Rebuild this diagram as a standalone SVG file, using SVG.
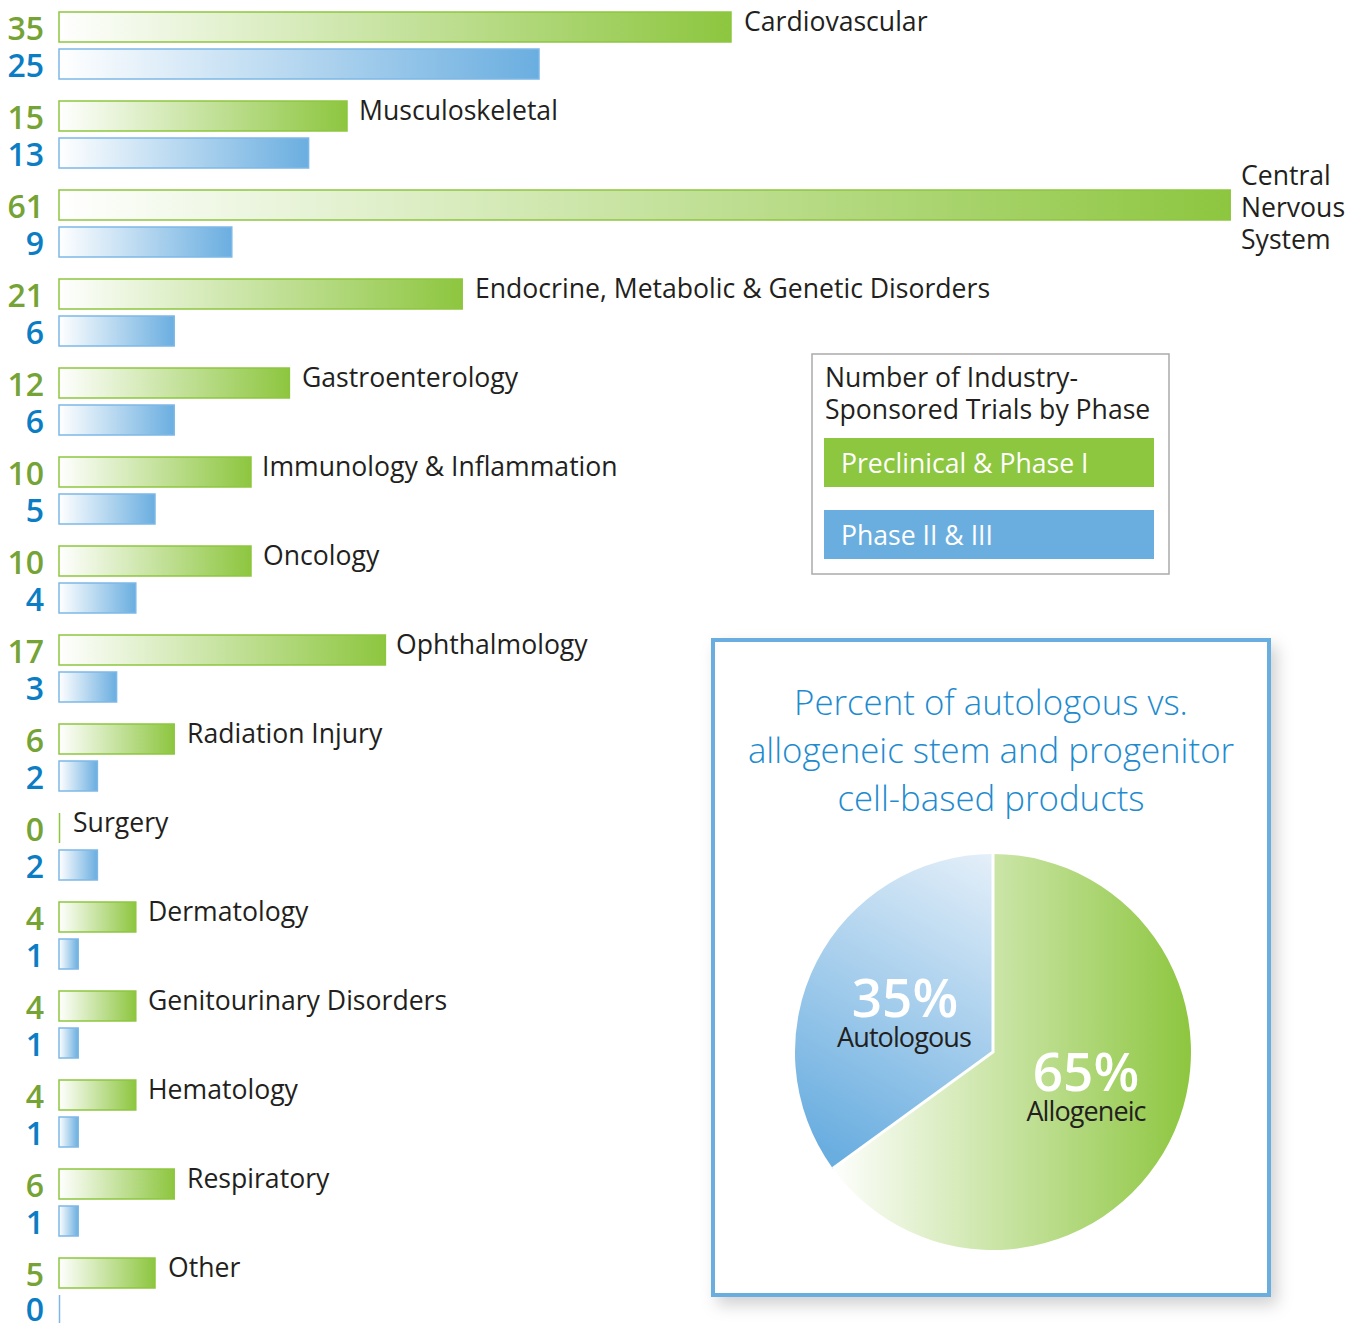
<svg xmlns="http://www.w3.org/2000/svg" width="1359" height="1323" viewBox="0 0 1359 1323">
<defs>
<linearGradient id="gG" x1="0" y1="0" x2="1" y2="0"><stop offset="0" stop-color="#ffffff"/><stop offset="1" stop-color="#8dc63f"/></linearGradient>
<linearGradient id="gB" x1="0" y1="0" x2="1" y2="0"><stop offset="0" stop-color="#ffffff"/><stop offset="1" stop-color="#6aaee0"/></linearGradient>
<linearGradient id="pieG" gradientUnits="userSpaceOnUse" x1="830" y1="0" x2="1191" y2="0"><stop offset="0" stop-color="#ffffff"/><stop offset="1" stop-color="#8dc63f"/></linearGradient>
<linearGradient id="pieB" gradientUnits="userSpaceOnUse" x1="993" y1="855" x2="830" y2="1150"><stop offset="0" stop-color="#e4eff9"/><stop offset="1" stop-color="#6aaee0"/></linearGradient>
<filter id="sh" x="-10%" y="-10%" width="125%" height="125%"><feDropShadow dx="6" dy="8" stdDeviation="8" flood-color="#000" flood-opacity="0.18"/></filter>
</defs>
<style>
text{font-family:"Open Sans","Noto Sans","Liberation Sans",sans-serif}
.g{fill:url(#gG);stroke:#8dc63f;stroke-width:1.5}
.b{fill:url(#gB);stroke:#7db8e6;stroke-width:1.5}
.ng{fill:#76a335;font-size:32px;font-weight:600;text-anchor:end}
.nb{fill:#0a7dc4;font-size:32px;font-weight:600;text-anchor:end}
.lb{fill:#231f20;font-size:26.6px}
.lt{fill:#231f20;font-size:26.6px}
.lw{fill:#ffffff;font-size:26.6px}
.pt{fill:#1e8bcf;font-size:34.8px;font-weight:300;text-anchor:middle}
.pp{fill:#ffffff;font-size:53px;font-weight:600;text-anchor:middle}
.pl{fill:#231f20;font-size:27px;letter-spacing:-0.9px;text-anchor:middle}
</style>
<rect width="1359" height="1323" fill="#ffffff"/>

<g id="cat-cardiovascular">
<rect class="g" x="59" y="12" width="672" height="30"/><rect class="b" x="59" y="49" width="480" height="30"/>
<text class="ng" x="44" y="40">35</text><text class="nb" x="44" y="76.5">25</text>
<text class="lb" x="744" y="30.5">Cardiovascular</text>
</g>
<g id="cat-musculoskeletal">
<rect class="g" x="59" y="101" width="288" height="30"/><rect class="b" x="59" y="138" width="249.6" height="30"/>
<text class="ng" x="44" y="129">15</text><text class="nb" x="44" y="165.5">13</text>
<text class="lb" x="359" y="119.5">Musculoskeletal</text>
</g>
<g id="cat-cns">
<rect class="g" x="59" y="190" width="1171.2" height="30"/><rect class="b" x="59" y="227" width="172.8" height="30"/>
<text class="ng" x="44" y="218">61</text><text class="nb" x="44" y="254.5">9</text>
<text class="lb" x="1241" y="185">Central</text><text class="lb" x="1241" y="217">Nervous</text><text class="lb" x="1241" y="249">System</text>
</g>
<g id="cat-endocrine">
<rect class="g" x="59" y="279" width="403.2" height="30"/><rect class="b" x="59" y="316" width="115.2" height="30"/>
<text class="ng" x="44" y="307">21</text><text class="nb" x="44" y="343.5">6</text>
<text class="lb" x="475" y="297.5">Endocrine, Metabolic &amp; Genetic Disorders</text>
</g>
<g id="cat-gastroenterology">
<rect class="g" x="59" y="368" width="230.4" height="30"/><rect class="b" x="59" y="405" width="115.2" height="30"/>
<text class="ng" x="44" y="396">12</text><text class="nb" x="44" y="432.5">6</text>
<text class="lb" x="302" y="386.5">Gastroenterology</text>
</g>
<g id="cat-immunology">
<rect class="g" x="59" y="457" width="192" height="30"/><rect class="b" x="59" y="494" width="96" height="30"/>
<text class="ng" x="44" y="485">10</text><text class="nb" x="44" y="521.5">5</text>
<text class="lb" x="262" y="475.5">Immunology &amp; Inflammation</text>
</g>
<g id="cat-oncology">
<rect class="g" x="59" y="546" width="192" height="30"/><rect class="b" x="59" y="583" width="76.8" height="30"/>
<text class="ng" x="44" y="574">10</text><text class="nb" x="44" y="610.5">4</text>
<text class="lb" x="263" y="564.5">Oncology</text>
</g>
<g id="cat-ophthalmology">
<rect class="g" x="59" y="635" width="326.4" height="30"/><rect class="b" x="59" y="672" width="57.6" height="30"/>
<text class="ng" x="44" y="663">17</text><text class="nb" x="44" y="699.5">3</text>
<text class="lb" x="396" y="653.5">Ophthalmology</text>
</g>
<g id="cat-radiation">
<rect class="g" x="59" y="724" width="115.2" height="30"/><rect class="b" x="59" y="761" width="38.4" height="30"/>
<text class="ng" x="44" y="752">6</text><text class="nb" x="44" y="788.5">2</text>
<text class="lb" x="187" y="742.5">Radiation Injury</text>
</g>
<g id="cat-surgery">
<line x1="59.5" y1="813" x2="59.5" y2="843" stroke="#8dc63f" stroke-width="1.5"/><rect class="b" x="59" y="850" width="38.4" height="30"/>
<text class="ng" x="44" y="841">0</text><text class="nb" x="44" y="877.5">2</text>
<text class="lb" x="73" y="832">Surgery</text>
</g>
<g id="cat-dermatology">
<rect class="g" x="59" y="902" width="76.8" height="30"/><rect class="b" x="59" y="939" width="19.2" height="30"/>
<text class="ng" x="44" y="930">4</text><text class="nb" x="44" y="966.5">1</text>
<text class="lb" x="148" y="921">Dermatology</text>
</g>
<g id="cat-genitourinary">
<rect class="g" x="59" y="991" width="76.8" height="30"/><rect class="b" x="59" y="1028" width="19.2" height="30"/>
<text class="ng" x="44" y="1019">4</text><text class="nb" x="44" y="1055.5">1</text>
<text class="lb" x="148" y="1010">Genitourinary Disorders</text>
</g>
<g id="cat-hematology">
<rect class="g" x="59" y="1080" width="76.8" height="30"/><rect class="b" x="59" y="1117" width="19.2" height="30"/>
<text class="ng" x="44" y="1108">4</text><text class="nb" x="44" y="1144.5">1</text>
<text class="lb" x="148" y="1099">Hematology</text>
</g>
<g id="cat-respiratory">
<rect class="g" x="59" y="1169" width="115.2" height="30"/><rect class="b" x="59" y="1206" width="19.2" height="30"/>
<text class="ng" x="44" y="1197">6</text><text class="nb" x="44" y="1233.5">1</text>
<text class="lb" x="187" y="1188">Respiratory</text>
</g>
<g id="cat-other">
<rect class="g" x="59" y="1258" width="96" height="30"/><line x1="59.5" y1="1295" x2="59.5" y2="1325" stroke="#7db8e6" stroke-width="1.5"/>
<text class="ng" x="44" y="1286">5</text><text class="nb" x="44" y="1321">0</text>
<text class="lb" x="168" y="1277">Other</text>
</g>

<g id="legend">
<rect x="812" y="354" width="357" height="220" fill="#ffffff" stroke="#aaaaaa" stroke-width="1.5"/>
<text class="lt" x="825" y="387">Number of Industry-</text>
<text class="lt" x="825" y="419">Sponsored Trials by Phase</text>
<rect x="824" y="438" width="330" height="49" fill="#8dc63f"/>
<text class="lw" x="841" y="473">Preclinical &amp; Phase I</text>
<rect x="824" y="510" width="330" height="49" fill="#6aaee0"/>
<text class="lw" x="841" y="545">Phase II &amp; III</text>
</g>

<g id="pie-panel">
<rect x="713" y="640" width="556" height="655" fill="#ffffff" stroke="#6aaee0" stroke-width="4" filter="url(#sh)"/>
<text class="pt" x="991" y="715">Percent of autologous vs.</text>
<text class="pt" x="991" y="763">allogeneic stem and progenitor</text>
<text class="pt" x="991" y="811">cell-based products</text>
<path d="M993,1052 L993,854 A198,198 0 1 1 832.8,1168.4 Z" fill="url(#pieG)"/>
<path d="M993,1052 L993,854 A198,198 0 0 0 832.8,1168.4 Z" fill="url(#pieB)"/>
<path d="M993,854 L993,1052 L832.8,1168.4" fill="none" stroke="#ffffff" stroke-width="3"/>
<text class="pp" x="905" y="1017">35%</text>
<text class="pl" x="904" y="1047">Autologous</text>
<text class="pp" x="1086" y="1091">65%</text>
<text class="pl" x="1086" y="1121">Allogeneic</text>
</g>
</svg>
